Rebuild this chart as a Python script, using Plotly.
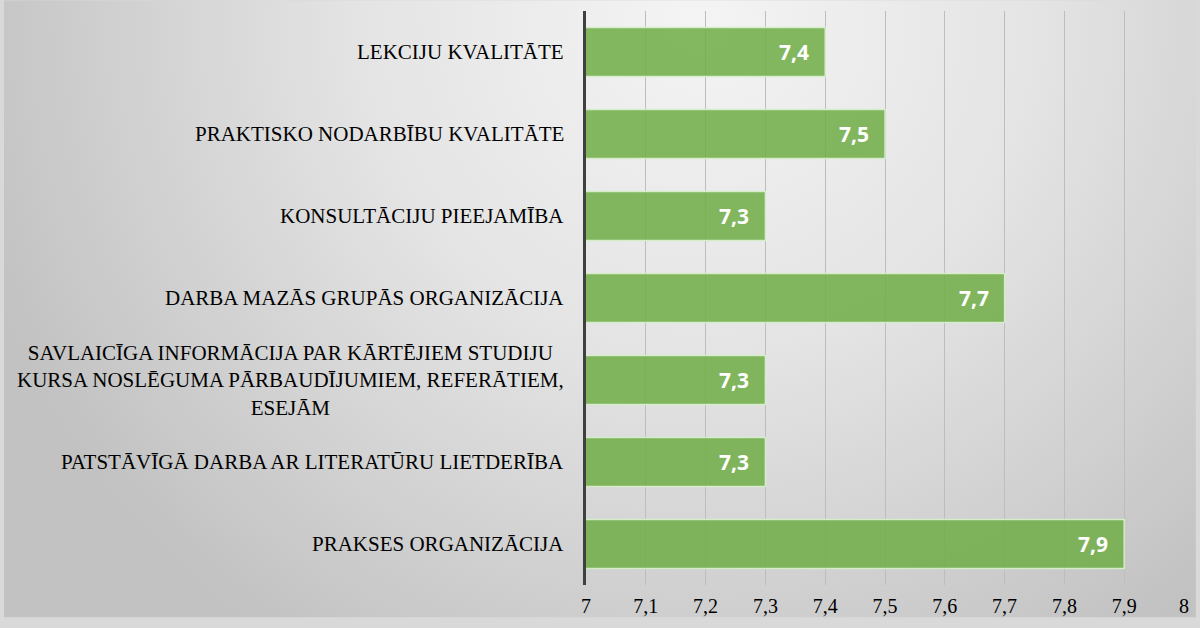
import base64
import plotly.graph_objects as go

categories = [
    "LEKCIJU KVALITĀTE",
    "PRAKTISKO NODARBĪBU KVALITĀTE",
    "KONSULTĀCIJU PIEEJAMĪBA",
    "DARBA MAZĀS GRUPĀS ORGANIZĀCIJA",
    "SAVLAICĪGA INFORMĀCIJA PAR KĀRTĒJIEM STUDIJU<br>KURSA NOSLĒGUMA PĀRBAUDĪJUMIEM, REFERĀTIEM,<br>ESEJĀM",
    "PATSTĀVĪGĀ DARBA AR LITERATŪRU LIETDERĪBA",
    "PRAKSES ORGANIZĀCIJA",
]
values = [7.4, 7.5, 7.3, 7.7, 7.3, 7.3, 7.9]
x_range = [7, 8]

W, H = 1200, 628
ML, MR, MT, MB = 586, 12, 11, 33
pw, ph = W - ML - MR, H - MT - MB

svg = f"""<svg xmlns="http://www.w3.org/2000/svg" width="{W}" height="{H}" viewBox="0 0 {W} {H}" preserveAspectRatio="none">
<defs><radialGradient id="g" gradientUnits="userSpaceOnUse" cx="700" cy="20" r="760">
<stop offset="0" stop-color="#f4f4f4"/><stop offset="0.45" stop-color="#e4e4e4"/><stop offset="1" stop-color="#c2c2c2"/>
</radialGradient></defs><rect width="{W}" height="{H}" fill="url(#g)"/></svg>"""
bg_src = "data:image/svg+xml;base64," + base64.b64encode(svg.encode()).decode()

fig = go.Figure()
fig.add_trace(go.Bar(
    y=categories, x=values, orientation="h", width=0.6,
    marker=dict(color="rgba(112,173,71,0.86)", line=dict(color="rgba(215,238,205,0.95)", width=1.5)),
    hoverinfo="skip",
))

annotations = []
for c, v in zip(categories, values):
    annotations.append(dict(
        x=v, y=c, xref="x", yref="y", text=f"{v:.1f}".replace(".", ","),
        showarrow=False, xanchor="right", xshift=-14,
        font=dict(family="Open Sans", size=21, color="white", weight="bold"),
    ))
    annotations.append(dict(
        x=0, y=c, xref="paper", yref="y", text=c, showarrow=False,
        xanchor="right", xshift=-20, align="center",
        font=dict(family="Liberation Serif", size=21, color="black"),
    ))

fig.update_layout(
    width=W, height=H,
    margin=dict(l=ML, r=MR, t=MT, b=MB, pad=0),
    paper_bgcolor="#d9d9d9",
    plot_bgcolor="rgba(0,0,0,0)",
    separators=",.",
    showlegend=False,
    bargap=0.4,
    images=[dict(source=bg_src, xref="paper", yref="paper",
                 x=-ML / pw, y=1 + MT / ph, sizex=W / pw, sizey=H / ph,
                 xanchor="left", yanchor="top", sizing="stretch", layer="below")],
    xaxis=dict(range=x_range, dtick=0.1, tick0=7, showgrid=True, gridcolor="#bdbdbd", gridwidth=1,
               zeroline=False, showline=False, ticks="",
               tickfont=dict(family="Liberation Serif", size=20, color="black"),
               ticklabelstandoff=7, fixedrange=True),
    yaxis=dict(autorange="reversed", showticklabels=False, showgrid=False, zeroline=False,
               showline=True, linecolor="#404040", linewidth=3, ticks=""),
    annotations=annotations,
)

fig.write_html("out.html", config={"displayModeBar": False},
               post_script="document.body.style.margin='0';document.body.style.overflow='hidden';"
                           "document.body.style.background='#c6c6c6';"
                           "document.documentElement.style.background='#c6c6c6';")
